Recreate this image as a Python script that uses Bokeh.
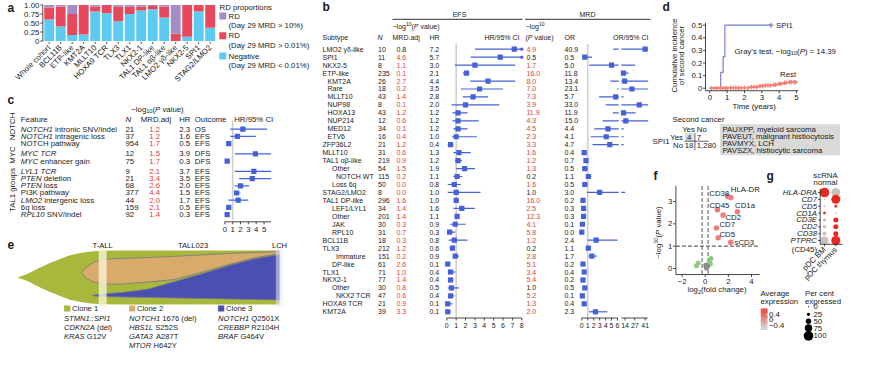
import math
import numpy as np
from bokeh.plotting import figure
from bokeh.models import Range1d, ColumnDataSource
from bokeh.transform import linear_cmap
from bokeh.core.properties import value
from bokeh.embed import file_html
from bokeh.resources import INLINE

# ======================= DATA =======================
# --- panel a: RD proportions per subtype
a_categories = ["Whole cohort", "BCL11B", "ETP-like", "KMT2A", "MLLT10", "HOXA9 TCR", "TLX3", "TLX1",
                "NKX2-1", "TAL1 DP-like", "TAL1 αβ-like", "LMO2 γδ-like", "NKX2-5", "SPI1", "STAG2/LMO2"]
a_negative = [0.60, 0.40, 0.17, 0.18, 0.82, 0.77, 0.55, 0.75, 0.85, 0.88, 0.65, 0.00, 0.12, 0.82, 0.37]
a_rd_low = [0.33, 0.56, 0.58, 0.82, 0.14, 0.23, 0.41, 0.21, 0.11, 0.09, 0.31, 0.20, 0.88, 0.18, 0.63]
a_rd_high = [0.07, 0.04, 0.25, 0.00, 0.04, 0.00, 0.04, 0.04, 0.04, 0.03, 0.04, 0.80, 0.00, 0.00, 0.00]
a_ticks = [0, 0.25, 0.5, 0.75, 1.0]
a_tick_labels = ["0", "0.25", "0.50", "0.75", "1.00"]
a_legend_title = "RD proportions"
a_legend = [("RD", "(Day 29 MRD > 10%)"), ("RD", "(Day 29 MRD > 0.01%)"), ("Negative", "(Day 29 MRD < 0.01%)")]

# --- panel b: subtype forest (EFS and MRD)
b_subtype = ["LMO2 γδ-like", "SPI1", "NKX2-5", "ETP-like", "KMT2A", "Rare", "MLLT10", "NUP98", "HOXA13",
             "NUP214", "MED12", "ETV6", "ZFP36L2", "MLLT10", "TAL1 αβ-like", "Other", "NOTCH WT", "Loss 6q",
             "STAG2/LMO2", "TAL1 DP-like", "LEF1/LYL1", "Other", "JAK", "RPL10", "BCL11B", "TLX3", "Immature",
             "DP-like", "TLX1", "NKX2-1", "Other", "NKX2 TCR", "HOXA9 TCR", "KMT2A"]
b_level = [0, 0, 0, 0, 1, 1, 1, 1, 1, 1, 1, 1, 0, 0, 0, 2, 3, 2, 0, 0, 2, 2, 2, 2, 0, 0, 3, 2, 0, 0, 2, 3, 0, 0]
b_n = [10, 11, 8, 235, 26, 18, 43, 8, 43, 12, 34, 16, 21, 31, 219, 54, 115, 50, 8, 296, 34, 201, 30, 31, 18,
       212, 151, 61, 71, 77, 30, 47, 21, 39]
b_efs_mrdadj = [0.8, 4.6, 1.1, 0.1, 2.7, 0.2, 1.4, 0.1, 1.2, 0.6, 0.1, 0.4, 1.2, 0.6, 0.9, 1.5, 0.2, 0.0, 0.0,
                1.6, 1.4, 1.4, 0.3, 0.7, 0.3, 1.2, 0.2, 2.6, 1.0, 1.4, 0.8, 0.6, 0.9, 3.3]
b_efs_red = [False] + [True] * 33
b_hr = [7.2, 5.7, 3.0, 2.1, 4.4, 3.5, 2.8, 2.0, 1.2, 1.2, 1.2, 1.0, 0.4, 1.3, 1.2, 1.9, 1.1, 0.8, 1.0, 1.0,
        1.6, 1.1, 0.9, 0.3, 0.8, 0.6, 0.9, 0.1, 0.4, 0.4, 0.5, 0.4, 0.1, 0.1]
b_hr_lo = [3.0, 2.55, 0.85, 1.7, 2.5, 1.5, 1.7, 0.5, 0.6, 0.6, 0.7, 0.55, 0.1, 0.7, 0.9, 1.0, 0.7, 0.1, 0.1,
           0.75, 0.7, 0.85, 0.35, 0.1, 0.2, 0.45, 0.65, 0.05, 0.1, 0.2, 0.1, 0.2, 0.0, 0.05]
b_hr_hi = [12.0, 11.0, 7.3, 2.4, 7.3, 6.0, 4.4, 5.6, 2.2, 3.4, 2.2, 3.2, 0.7, 2.55, 1.6, 3.0, 1.65, 1.5, 3.6,
           1.3, 3.0, 1.3, 2.0, 0.9, 2.2, 0.8, 1.3, 0.35, 0.9, 0.7, 1.3, 0.8, 0.6, 0.4]
b_mrd_p = [4.9, 0.5, 1.7, 16.0, 8.0, 7.0, 7.3, 3.9, 11.9, 4.3, 4.5, 2.3, 3.3, 1.6, 1.2, 1.3, 0.2, 1.6, 1.0,
           16.0, 2.5, 12.3, 4.1, 5.8, 1.2, 0.2, 2.8, 5.1, 3.4, 5.4, 1.0, 5.2, 1.3, 2.0]
b_or = [40.9, 0.5, 5.0, 11.8, 13.4, 23.1, 5.7, 33.0, 11.9, 15.0, 4.4, 4.1, 4.7, 0.4, 0.7, 0.5, 1.1, 0.5, 3.0,
        0.2, 0.3, 0.3, 0.1, 0.0, 2.4, 1.1, 1.7, 0.2, 0.4, 0.2, 0.5, 0.1, 0.4, 2.3]
b_or_lo = [5.3, 0.1, 1.24, 9.4, 4.8, 5.9, 2.9, 4.0, 5.2, 3.5, 2.1, 1.5, 1.8, 0.1, 0.55, 0.25, 0.7, 0.2, 0.85,
           0.05, 0.15, 0.15, 0.03, 0.0, 0.95, 0.8, 1.1, 0.05, 0.2, 0.05, 0.2, 0.03, 0.15, 1.2]
b_or_hi = [60, 1.7, 27.5, 18.5, 60, 60, 12, 60, 28, 60, 12, 12, 12, 0.9, 1.0, 1.0, 1.6, 0.95, 14, 0.3, 0.5,
           0.5, 0.2, 0.1, 6.0, 1.4, 2.5, 0.35, 0.6, 0.35, 0.9, 0.2, 0.8, 4.3]
b_efs_ticks = [0, 1, 2, 3, 4, 5, 6, 7, 8]
b_mrd_ticks1 = [0, 1, 2, 3, 4, 5, 6]
b_mrd_ticks2 = [14, 27, 41]

# --- panel c: genomic features
c_gene = ["NOTCH1", "NOTCH1", "", "MYC TCR", "MYC", "LYL1 TCR", "PTEN", "PTEN", "", "LMO2", "", "RPL10"]
c_rest = [" intronic SNV/indel", " intragenic loss", "NOTCH pathway", "", " enhancer gain", "", " deletion",
          " loss", "PI3K pathway", " intergenic loss", "6q loss", " SNV/indel"]
c_group = [0, 0, 0, 1, 1, 2, 2, 2, 2, 2, 2, 2]
c_group_names = ["NOTCH", "MYC", "TAL1 groups"]
c_n = [21, 37, 954, 12, 75, 9, 21, 68, 377, 44, 159, 92]
c_mrdadj = [1.2, 1.2, 1.7, 1.5, 1.7, 2.1, 3.4, 2.6, 4.4, 2.0, 2.1, 1.4]
c_hr = [2.3, 1.6, 0.5, 3.9, 0.3, 3.7, 3.5, 2.0, 1.5, 1.7, 0.5, 0.3]
c_outcome = ["OS", "EFS", "EFS", "DFS", "DFS", "EFS", "EFS", "EFS", "EFS", "EFS", "EFS", "EFS"]
c_hr_lo = [0.7, 0.7, 0.35, 1.3, 0.1, 1.27, 1.83, 1.27, 1.2, 0.47, 0.35, 0.2]
c_hr_hi = [5.4, 3.95, 0.6, 9.0, 0.65, 9.0, 9.0, 3.1, 2.0, 3.0, 0.65, 0.5]
c_ticks = [0, 1, 2, 3, 4, 5]

# --- panel d: cumulative incidence of second cancer
d_spi1_t = [0.0, 0.63, 0.77, 0.87, 3.53]
d_spi1_ci = [0.0, 0.125, 0.25, 0.5, 0.5]
d_rest_t = [0.0, 1.1, 2.3, 2.8, 3.2, 3.6, 3.9, 4.2, 4.5, 5.0]
d_rest_ci = [0.0, 0.004, 0.01, 0.017, 0.022, 0.027, 0.035, 0.043, 0.048, 0.048]
d_rest_censor = [0.1, 0.25, 0.4, 0.6, 0.75, 0.9, 1.0, 1.2, 1.35, 1.5, 1.65, 1.8, 2.0, 2.2, 2.4, 2.55, 2.7,
                 2.9, 3.05, 3.2, 3.35, 3.5, 3.7, 3.8, 4.0, 4.1, 4.3, 4.4, 4.6, 4.7, 4.85, 4.95]
d_xticks = [0, 1, 2, 3, 4, 5]
d_yticks = [0, 0.1, 0.2, 0.3, 0.4, 0.5]
d_ytick_labels = ["0", "0.1", "0.2", "0.3", "0.4", "0.5"]
d_tab_cols = ["Yes", "No"]
d_tab_rows = ["Yes", "No"]
d_tab = [["4", "7"], ["18", "1,280"]]
d_cases = ["PAUXPP, myeloid sarcoma", "PAVEUT, malignant histiocytosis", "PAVMYX, LCH",
           "PAVSZX, histiocytic sarcoma"]

# --- panel e: fishplot (time 0-100, fraction 0-100)
e_t1 = [0, 4, 8, 12, 16, 20, 24, 28, 32, 40, 50, 60, 70, 80, 90, 100]
e_clone1_top = [50, 57, 67, 76, 84, 91, 95.5, 98, 99.5, 100, 100, 100, 100, 100, 100, 100]
e_clone1_bot = [50, 43, 33, 24, 16, 9, 4.5, 2, 0.5, 0, 0, 0, 0, 0, 0, 0]
e_t2 = [24.5, 26, 28, 30, 32, 36, 40, 50, 60, 70, 80, 90, 100]
e_clone2_top = [59, 68, 75, 80, 83, 84.5, 85.5, 87, 89.3, 91.7, 94.4, 96.3, 98.1]
e_clone2_bot = [59, 50, 44, 40.5, 38.5, 37.5, 38, 41.7, 46.3, 59.3, 73.1, 86.1, 94.4]
e_t3 = [28.6, 30, 32, 36, 40, 50, 60, 70, 80, 90, 100]
e_clone3_top = [16.7, 18, 19.4, 21, 22.2, 28.7, 42.6, 56.5, 71.3, 84.3, 92.6]
e_clone3_bot = [16.7, 15.5, 14.8, 14.2, 13.9, 13, 12, 11.1, 10.2, 9.3, 8.3]
e_timepoints = [32.5, 100]
e_timepoint_labels = ["T-ALL", "LCH"]
e_sample_label = ("TALL023", 67)
e_clone_names = ["Clone 1", "Clone 2", "Clone 3"]
e_mutations = [[("STMN1::SPI1", ""), ("CDKN2A", " (del)"), ("KRAS", " G12V")],
               [("NOTCH1", " 1676 (del)"), ("HBS1L", " S252S"), ("GATA3", " A287T"), ("MTOR", " H642Y")],
               [("NOTCH1", " Q2501X"), ("CREBBP", " R2104H"), ("BRAF", " G464V")]]

# --- panel f: volcano
f_labels = ["HLA-DR", "CD38", "CD45", "CD1a", "CD2", "CD7", "CD5", "sCD3"]
f_lfc = [2.21, 1.95, 1.06, 2.78, 1.55, 0.97, 1.12, 2.21]
f_nlp = [3.18, 3.22, 2.63, 2.54, 2.39, 1.81, 1.38, 1.17]
f_ns_green_lfc = [-0.75, -0.6, 0.35, 0.5, 0.45]
f_ns_green_nlp = [0.12, 0.25, 0.3, 0.45, 0.2]
f_ns_gray_lfc = [0.1, 0.2, 0.05]
f_ns_gray_nlp = [0.02, 0.1, 0.15]
f_xticks = [-2, 0, 2, 4]
f_yticks = [0, 1, 2, 3]

# --- panel g: scRNA dot plot
g_genes = ["HLA-DRA", "CD7", "CD5", "CD1A", "CD3E", "CD2", "CD38", "PTPRC"]
g_groups = ["pDC BM", "pDC thymus"]
g_pct_bm = [100, 8, 8, 20, 27, 27, 33, 80]
g_pct_thy = [92, 92, 21, 5, 45, 45, 45, 92]
g_expr_bm = [0.5, -0.5, -0.5, 0.4, -0.5, -0.5, -0.5, -0.5]
g_expr_thy = [-0.5, 0.5, 0.45, -0.3, 0.5, 0.5, 0.5, 0.5]
g_size_legend = [0, 25, 50, 75, 100]
g_expr_ticks = [0.4, 0, -0.4]
g_expr_tick_labels = ["0.4", "0", "−0.4"]

# ======================= CANVAS =======================
FONT = "Liberation Sans"
INK = "#1a1a1a"
RED_T = "#e3403b"
BLUE = "#4560d8"
W, H = 853, 349
X0, Y0 = 8, 8

p = figure(width=W, height=H, x_range=Range1d(X0, X0 + W), y_range=Range1d(Y0 + H, Y0),
           x_axis_type=None, y_axis_type=None, output_backend="svg", toolbar_location=None,
           min_border=0, outline_line_color=None, background_fill_color="white",
           border_fill_color="white")


def add_x(name, v0, p0, v1, p1):
    k = (p1 - p0) / (v1 - v0)
    r = dict(p.extra_x_ranges)
    r[name] = Range1d(start=v0 + (X0 - p0) / k, end=v0 + (X0 + W - p0) / k)
    p.extra_x_ranges = r


def add_y(name, v0, p0, v1, p1):
    k = (p1 - p0) / (v1 - v0)
    r = dict(p.extra_y_ranges)
    r[name] = Range1d(start=v0 + (Y0 + H - p0) / k, end=v0 + (Y0 - p0) / k)
    p.extra_y_ranges = r


def _isseq(v):
    return isinstance(v, (list, tuple, np.ndarray))


def _bc(*vals):
    n = max(len(v) if _isseq(v) else 1 for v in vals)
    return [list(v) if _isseq(v) else [v] * n for v in vals]


def seg(x0, y0, x1, y1, color=INK, width=0.8, xr="default", yr="default", dash="solid", alpha=1.0):
    x0, y0, x1, y1 = _bc(x0, y0, x1, y1)
    p.segment(x0=x0, y0=y0, x1=x1, y1=y1, line_color=color, line_width=width, line_dash=dash,
              line_alpha=alpha, x_range_name=xr, y_range_name=yr)


def txt(x, y, s, size=7.5, color=INK, align="left", baseline="middle", style="normal", angle=0.0,
        xr="default", yr="default", dx=0.0, dy=0.0):
    xs, ys, ss, cs, dxs, dys = _bc(x, y, s, color, dx, dy)
    src = ColumnDataSource(dict(x=xs, y=ys, t=ss, col=cs, ox=dxs, oy=dys))
    p.text(x="x", y="y", text="t", text_color="col", x_offset="ox", y_offset="oy", source=src,
           x_range_name=xr, y_range_name=yr, text_font=value(FONT), text_font_size=value(f"{size}px"),
           text_align=align, text_baseline=baseline, text_font_style=style, angle=angle)


AW = {' ': 278, "'": 191, '(': 333, ')': 333, ',': 278, '-': 333, '.': 278, '/': 278, ':': 278, '<': 584,
      '=': 584, '>': 584, '%': 889, '−': 584, 'γ': 480, 'δ': 556, 'α': 578, 'β': 575,
      'A': 667, 'B': 667, 'C': 722, 'D': 722, 'E': 667, 'F': 611, 'G': 778, 'H': 722, 'I': 278, 'J': 500,
      'K': 667, 'L': 556, 'M': 833, 'N': 722, 'O': 778, 'P': 667, 'Q': 778, 'R': 722, 'S': 667, 'T': 611,
      'U': 722, 'V': 667, 'W': 944, 'X': 667, 'Y': 667, 'Z': 611,
      'a': 556, 'b': 556, 'c': 500, 'd': 556, 'e': 556, 'f': 278, 'g': 556, 'h': 556, 'i': 222, 'j': 222,
      'k': 500, 'l': 222, 'm': 833, 'n': 556, 'o': 556, 'p': 556, 'q': 556, 'r': 333, 's': 500, 't': 278,
      'u': 556, 'v': 500, 'w': 722, 'x': 500, 'y': 500, 'z': 500}


def tw(s, size):
    return sum(AW.get(ch, 556) for ch in s) / 1000.0 * size


def rich(x, y, segs, size=7.5, color=INK, align="left", angle=0.0, xr="default", yr="default"):
    fss = [size * 0.72 if st in ("sub", "sup") else size for _, st in segs]
    ws = [tw(t, fs) for (t, _), fs in zip(segs, fss)]
    tot = sum(ws)
    off = {"left": 0.0, "center": -tot / 2.0, "right": -tot}[align]
    ca, sa = math.cos(angle), math.sin(angle)
    for (t, st), w, fs in zip(segs, ws, fss):
        core = t.strip(" ")
        if core:
            lead = len(t) - len(t.lstrip(" "))
            o = off + tw(" " * lead, fs)
            shift = {"sub": -size * 0.28, "sup": size * 0.36}.get(st, 0.0)
            dx = o * ca - shift * sa
            dy = -o * sa - shift * ca
            style = {"i": "italic", "b": "bold"}.get(st, "normal")
            txt(x, y, core, size=fs, color=color, align="left", style=style, angle=angle, xr=xr, yr=yr,
                dx=dx, dy=dy)
        off += w


def letter(x, y, s):
    txt(x, y, s, size=12, style="bold", baseline="middle")


# ======================= PANEL a =======================
SA = 7.8
A_NEG, A_LOW, A_HIGH = "#5bcbf1", "#e8485b", "#a58cc7"
add_x("a_x", 0, 56.7, 14, 217.7)
add_y("a_y", 0, 48.5, 1, 12.5)
a_idx = list(range(len(a_categories)))
neg = np.array(a_negative)
low = np.array(a_rd_low)
high = np.array(a_rd_high)
for bot, top, colr in ((np.zeros_like(neg), neg, A_NEG), (neg, neg + low, A_LOW),
                       (neg + low, neg + low + high, A_HIGH)):
    p.vbar(x=a_idx, width=0.86, bottom=bot, top=top, fill_color=colr, line_color=None,
           x_range_name="a_x", y_range_name="a_y")
seg(50.3, 0, 50.3, 1, yr="a_y")
seg(47.8, a_ticks, 50.3, a_ticks, yr="a_y")
txt(46.8, a_ticks, a_tick_labels, size=SA, align="right", yr="a_y")
seg(a_idx, 49.4, a_idx, 51.4, xr="a_x")
txt(a_idx, 53.8, a_categories, size=SA, align="right", angle=math.pi / 4, xr="a_x")
letter(15, 15, "a")
txt(227, 15.0, a_legend_title, size=SA)
for (l1, l2), colr, ly in zip(a_legend, (A_HIGH, A_LOW, A_NEG), (23.5, 43.3, 63.6)):
    p.scatter(x=[230.3], y=[ly], marker="square", size=7, fill_color=colr, line_color=None)
    txt(236, ly, l1, size=SA)
    txt(236, ly + 9.4, l2, size=SA)

# ======================= PANEL b =======================
SB = 7.0
nb = len(b_subtype)
rows = np.arange(nb)
add_y("b_row", 0, 56.7, 33, 319.3)
add_x("efs", 0, 454.3, 8, 529.3)
add_x("mrd1", 0, 589.3, 6, 625.0)
add_x("mrd2", 14, 632.6, 41, 652.7)
letter(330, 14, "b")
# headers
txt(467, 21.7, "EFS", size=SB, align="center")
seg(400, 26.8, 530, 26.8, width=0.9)
txt(595, 21.7, "MRD", size=SB, align="center")
seg(532.5, 26.8, 658, 26.8, width=0.9)
rich(400, 34.3, [("−log", "n"), ("10", "sup"), ("(", "n"), ("P", "i"), (" value)", "n")], size=SB)
hy = 45.0
txt(330, hy, "Subtype", size=SB)
txt(385, hy, "N", size=SB, style="italic")
txt(400, hy, "MRD.adj", size=SB)
txt(437, hy, "HR", size=SB)
txt(527, hy, "HR/95% CI", size=SB, align="right")
rich(533, 33.7, [("−log", "n"), ("10", "sup")], size=SB)
rich(533, hy, [("(", "n"), ("P", "i"), (" value)", "n")], size=SB)
txt(572, hy, "OR", size=SB)
txt(656, hy, "OR/95% CI", size=SB, align="right")
# table columns
B_INDENT = [0.0, 5.0, 9.5, 13.5]
txt(330, rows, b_subtype, size=SB, yr="b_row", dx=[B_INDENT[l] for l in b_level])
txt(385.5, rows, [str(v) for v in b_n], size=SB, yr="b_row")
txt(404, rows, [f"{v:.1f}" for v in b_efs_mrdadj], size=SB, yr="b_row",
    color=[RED_T if r else INK for r in b_efs_red])
txt(437, rows, [f"{v:.1f}" for v in b_hr], size=SB, yr="b_row")
txt(534, rows, [f"{v:.1f}" for v in b_mrd_p], size=SB, yr="b_row",
    color=[RED_T if v >= 1.2 else INK for v in b_mrd_p])
txt(572, rows, [f"{v:.1f}" for v in b_or], size=SB, yr="b_row")
# EFS forest
seg(1, -0.7, 1, 33.7, color="#cfcfcf", width=1.6, xr="efs", yr="b_row")
hr_lo = np.clip(b_hr_lo, 0, 8)
hr_hi = np.clip(b_hr_hi, 0, 8)
seg(hr_lo, rows, hr_hi, rows, color=BLUE, width=1.2, xr="efs", yr="b_row")
p.scatter(x=b_hr, y=rows, marker="square", size=5.2, fill_color=BLUE, line_color=None,
          x_range_name="efs", y_range_name="b_row")
clip_rows = [i for i in range(nb) if b_hr_hi[i] > 8]
p.scatter(x=[8] * len(clip_rows), y=clip_rows, marker="circle", size=3.2, fill_color=BLUE, line_color=None,
          x_range_name="efs", y_range_name="b_row")
AXY = 325.5
seg(0, AXY, 8, AXY, xr="efs")
seg(b_efs_ticks, AXY, b_efs_ticks, AXY + 2.5, xr="efs")
txt(b_efs_ticks, 333.0, [str(t) for t in b_efs_ticks], size=SB, align="center", xr="efs")
# MRD forest (broken axis)
S1_END, S2_START, S2_END = 6.2, 9.0, 45.0
or_lo = np.array(b_or_lo, dtype=float)
or_hi = np.array(b_or_hi, dtype=float)
or_v = np.array(b_or, dtype=float)
seg(1, -0.7, 1, 33.7, color="#cfcfcf", width=1.6, xr="mrd1", yr="b_row")
m1 = or_lo < S1_END
seg(np.maximum(or_lo[m1], 0), rows[m1], np.minimum(or_hi[m1], S1_END), rows[m1], color=BLUE, width=1.2,
    xr="mrd1", yr="b_row")
m2 = or_hi > S2_START
seg(np.maximum(or_lo[m2], S2_START), rows[m2], np.minimum(or_hi[m2], S2_END), rows[m2], color=BLUE,
    width=1.2, xr="mrd2", yr="b_row")
q1 = or_v <= S1_END
q2 = or_v >= S2_START
p.scatter(x=or_v[q1], y=rows[q1], marker="square", size=5.2, fill_color=BLUE, line_color=None,
          x_range_name="mrd1", y_range_name="b_row")
p.scatter(x=or_v[q2], y=rows[q2], marker="square", size=5.2, fill_color=BLUE, line_color=None,
          x_range_name="mrd2", y_range_name="b_row")
seg(0, AXY, 6, AXY, xr="mrd1")
seg(b_mrd_ticks1, AXY, b_mrd_ticks1, AXY + 2.5, xr="mrd1")
txt(b_mrd_ticks1, 333.0, [str(t) for t in b_mrd_ticks1], size=SB, align="center", xr="mrd1")
seg(S2_START, AXY, 44.5, AXY, xr="mrd2")
seg(b_mrd_ticks2, AXY, b_mrd_ticks2, AXY + 2.5, xr="mrd2")
txt(b_mrd_ticks2, 333.0, [str(t) for t in b_mrd_ticks2], size=SB, align="center", xr="mrd2")

# ======================= PANEL c =======================
SC = 7.8
c_pos = [i + 0.43 * g for i, g in enumerate(c_group)]
add_y("c_row", 0, 136.7, 1, 143.9)
add_x("c_hr", 0, 232.3, 5, 271.55)
letter(15, 107.5, "c")
rich(165, 116.7, [("−log", "n"), ("10", "sub"), ("(", "n"), ("P", "i"), (" value)", "n")], size=SC,
     align="center")
txt(28.3, 126.7, "Feature", size=SC)
txt(133, 126.7, "N", size=SC, style="italic")
txt(148.3, 126.7, "MRD.adj", size=SC)
txt(186.7, 126.7, "HR", size=SC)
txt(202.3, 126.7, "Outcome", size=SC)
txt(241.7, 126.7, "HR/95% CI", size=SC)
C_GROUP_Y = [134.0, 162.5, 197.5]
txt(19.5, C_GROUP_Y, c_group_names, size=SC, align="center", angle=math.pi / 2)
for i in range(len(c_gene)):
    segs = []
    if c_gene[i]:
        segs.append((c_gene[i], "i"))
    if c_rest[i]:
        segs.append((c_rest[i], "n"))
    rich(28.3, c_pos[i], segs, size=SC, yr="c_row")
txt(133, c_pos, [str(v) for v in c_n], size=SC, yr="c_row")
txt(156.7, c_pos, [f"{v:.1f}" for v in c_mrdadj], size=SC, yr="c_row", color=RED_T)
txt(186.7, c_pos, [f"{v:.1f}" for v in c_hr], size=SC, yr="c_row")
txt(202.3, c_pos, c_outcome, size=SC, yr="c_row")
seg(1, -1.2, 1, 12.6, color="#cfcfcf", width=1.6, xr="c_hr", yr="c_row")
C_MAX = 5.9
seg(np.clip(c_hr_lo, 0, C_MAX), c_pos, np.clip(c_hr_hi, 0, C_MAX), c_pos, color=BLUE, width=1.2,
    xr="c_hr", yr="c_row")
p.scatter(x=c_hr, y=c_pos, marker="square", size=5.2, fill_color=BLUE, line_color=None,
          x_range_name="c_hr", y_range_name="c_row")
seg(0, 229.3, C_MAX, 229.3, xr="c_hr")
seg(c_ticks, 229.3, c_ticks, 231.8, xr="c_hr")
txt(c_ticks, 236.8, [str(t) for t in c_ticks], size=SC, align="center", xr="c_hr")

# ======================= PANEL e =======================
SE = 7.6
E_G, E_T, E_B = "#a7b83d", "#d8ab6b", "#4b4fb1"
add_x("e_x", 0, 25, 100, 287)
add_y("e_y", 0, 312, 100, 258)
letter(15, 252, "e")
p.varea(x=e_t1, y1=e_clone1_bot, y2=e_clone1_top, fill_color=E_G, x_range_name="e_x", y_range_name="e_y")
p.varea(x=e_t2, y1=e_clone2_bot, y2=e_clone2_top, fill_color=E_T, x_range_name="e_x", y_range_name="e_y")
p.varea(x=e_t3, y1=e_clone3_bot, y2=e_clone3_top, fill_color=E_B, x_range_name="e_x", y_range_name="e_y")
for xs, ys in ((e_t2, e_clone2_top), (e_t2, e_clone2_bot), (e_t3, e_clone3_top), (e_t3, e_clone3_bot)):
    p.line(x=xs, y=ys, line_color="#7d7d7d", line_width=0.9, x_range_name="e_x", y_range_name="e_y")
tp = np.array(e_timepoints)
p.quad(left=tp[:1] - 1.5, right=tp[:1] + 1.5, bottom=-5, top=105, fill_color="#f8f4d6", fill_alpha=0.8,
       line_color=None, x_range_name="e_x", y_range_name="e_y")
p.quad(left=tp[1:] - 1.4, right=tp[1:] + 1.4, bottom=-5, top=105, fill_color="#e8e8f6", fill_alpha=0.55,
       line_color=None, x_range_name="e_x", y_range_name="e_y")
txt(list(tp), 253.3, e_timepoint_labels, size=SE, align="center", xr="e_x")
txt(e_sample_label[1], 253.3, e_sample_label[0], size=SE, align="center", xr="e_x")
for k, (lx, colr) in enumerate(zip((71.5, 136.5, 225.5), (E_G, E_T, E_B))):
    p.scatter(x=[lx + 3.2], y=[316.0], marker="square", size=6.2, fill_color=colr, line_color=None)
    txt(lx + 8, 316.0, e_clone_names[k], size=SE)
    for j, (gene, rest) in enumerate(e_mutations[k]):
        rich(lx, 325.6 + j * 9.1, [(gene, "i"), (rest, "n")], size=SE)

# ======================= PANEL d =======================
SD = 7.8
SPI_C, REST_C = "#7a7cc6", "#f27f74"
add_x("d_x", 0, 717.3, 5, 804.0)
add_y("d_y", 0, 95.7, 0.5, 32.7)
letter(670, 14, "d")
txt(681.7, 63.0, "Cumulative incidence", size=SD, align="center", angle=math.pi / 2)
txt(689.3, 63.0, "of second cancer", size=SD, align="center", angle=math.pi / 2)
p.step(x=d_spi1_t, y=d_spi1_ci, mode="after", line_color=SPI_C, line_width=1.2, x_range_name="d_x",
       y_range_name="d_y")
p.scatter(x=[d_spi1_t[-1]], y=[d_spi1_ci[-1]], marker="cross", size=5, line_color=SPI_C, line_width=1.2,
          x_range_name="d_x", y_range_name="d_y")
p.step(x=d_rest_t, y=d_rest_ci, mode="after", line_color=REST_C, line_width=1.6, x_range_name="d_x",
       y_range_name="d_y")
cens_idx = np.searchsorted(np.array(d_rest_t), np.array(d_rest_censor), side="right") - 1
cens_y = np.array(d_rest_ci)[cens_idx]
p.scatter(x=d_rest_censor, y=cens_y, marker="cross", size=4.5, line_color=REST_C, line_width=1.3,
          x_range_name="d_x", y_range_name="d_y")
txt(d_spi1_t[-1], d_spi1_ci[-1], "SPI1", size=SD, xr="d_x", yr="d_y", dx=5)
txt(4.05, 0.105, "Rest", size=SD, xr="d_x", yr="d_y")
rich(742, 58.7, [("Gray's test, −log", "n"), ("10", "sub"), ("(", "n"), ("P", "i"), (") = 14.39", "n")],
     size=SD)
seg(-0.25, -0.02, -0.25, 0.52, xr="d_x", yr="d_y")
seg(-0.25, -0.02, 5.1, -0.02, xr="d_x", yr="d_y")
seg(713.0, d_yticks, 710.5, d_yticks, yr="d_y")
txt(709.8, d_yticks, d_ytick_labels, size=SD, align="right", yr="d_y")
seg(d_xticks, 98.3, d_xticks, 100.8, xr="d_x")
txt(d_xticks, 104.8, [str(t) for t in d_xticks], size=SD, align="center", xr="d_x")
txt(761.7, 113.5, "Time (years)", size=SD, align="center")
# table
txt(680, 126.8, "Second cancer", size=SD)
txt(696.0, 136.8, d_tab_cols[0], size=SD, align="center")
txt(704.3, 136.8, d_tab_cols[1], size=SD, align="left")
txt(677.0, 149.0, "SPI1", size=SD, align="right")
p.quad(left=[692.3], right=[701.0], top=[140.6], bottom=[148.4], fill_color="#d9d9d9", line_color=None)
for r, ry in enumerate((144.5, 153.3)):
    txt(690.5, ry, d_tab_rows[r], size=SD, align="right")
    txt(696.6, ry, d_tab[r][0], size=SD, align="center")
    txt(704.3, ry, d_tab[r][1], size=SD, align="left")
seg(702.4, 140.5, 702.4, 157.5, width=0.7)
seg(692.0, 148.7, 716.0, 148.7, width=0.7)
p.quad(left=[727.7], right=[847.5], top=[131.8], bottom=[162.8], fill_color="#d9d9d9", line_color=None)
for j, case in enumerate(d_cases):
    txt(730.0, 136.5 + 7.25 * j, case, size=SD)

# ======================= PANEL f =======================
SF = 7.8
add_x("f_x", 0, 712.7, 4, 759.0)
add_y("f_y", 0, 276.0, 3, 209.0)
letter(661, 183.5, "f")
seg(-0.27, -0.25, -0.27, 3.7, color="#666666", width=1.1, xr="f_x", yr="f_y", dash="4 2")
seg(0.25, -0.25, 0.25, 3.7, color="#666666", width=1.1, xr="f_x", yr="f_y", dash="4 2")
seg(-2.53, 1, 4.7, 1, color="#666666", width=1.1, xr="f_x", yr="f_y", dash="4 2")
p.scatter(x=f_ns_green_lfc, y=f_ns_green_nlp, marker="circle", size=5, fill_color="#8fcb7e", line_color=None,
          x_range_name="f_x", y_range_name="f_y")
p.scatter(x=f_ns_gray_lfc, y=f_ns_gray_nlp, marker="circle", size=5, fill_color="#8a8a8a", line_color=None,
          x_range_name="f_x", y_range_name="f_y")
p.scatter(x=f_lfc, y=f_nlp, marker="circle", size=5.6, fill_color="#f07c7c", line_color=None,
          x_range_name="f_x", y_range_name="f_y")
F_LABEL_OFF = {"HLA-DR": (0, -8.3), "CD38": (-18.5, -3.0), "CD45": (-8, -4), "CD1a": (-2.3, -6),
               "CD2": (2.3, 2.3), "CD7": (3.0, -4.0), "CD5": (1.3, -3.6), "sCD3": (3.7, 0)}
txt(f_lfc, f_nlp, f_labels, size=SF, xr="f_x", yr="f_y", dx=[F_LABEL_OFF[l][0] for l in f_labels],
    dy=[F_LABEL_OFF[l][1] for l in f_labels])
seg(-2.53, -0.27, -2.53, 3.7, xr="f_x", yr="f_y")
seg(-2.53, -0.27, 4.7, -0.27, xr="f_x", yr="f_y")
seg(680.5, f_yticks, 683.0, f_yticks, yr="f_y")
txt(679.8, f_yticks, [str(t) for t in f_yticks], size=SF, align="right", yr="f_y")
seg(f_xticks, 282.0, f_xticks, 284.5, xr="f_x")
txt(f_xticks, 288.5, [str(t).replace("-", "−") for t in f_xticks], size=SF, align="center", xr="f_x")
rich(724.5, 297.0, [("log", "n"), ("2", "sub"), ("(fold change)", "n")], size=SF, align="center")
rich(666.0, 240.0, [("−log", "n"), ("10", "sup"), ("(", "n"), ("P", "i"), (" value)", "n")], size=SF,
     align="center", angle=math.pi / 2)

# ======================= PANEL g =======================
SG = 7.8
add_x("g_x", 0, 832.0, 1, 843.3)
add_y("g_y", 0, 200.0, 7, 248.0)
letter(774, 183.5, "g")
txt(833.0, 183.3, "scRNA", size=SG, align="center")
txt(833.0, 190.3, "normal", size=SG, align="center")
G_PAL = []
for k in range(64):
    f = k / 63.0
    G_PAL.append("#%02x%02x%02x" % (int(200 + (238 - 200) * f), int(200 + (34 - 200) * f),
                                    int(200 + (24 - 200) * f)))
gsrc = ColumnDataSource(dict(
    gx=[0] * len(g_genes) + [1] * len(g_genes),
    gy=list(range(len(g_genes))) * 2,
    pct=g_pct_bm + g_pct_thy,
    expr=g_expr_bm + g_expr_thy,
))
gsrc.data["sz"] = [1.2 + 0.085 * v for v in gsrc.data["pct"]]
p.scatter(x="gx", y="gy", size="sz", source=gsrc, marker="circle",
          fill_color=linear_cmap("expr", G_PAL, -0.55, 0.55), line_color=None,
          x_range_name="g_x", y_range_name="g_y")
g_rows = list(range(len(g_genes)))
seg(827.7, -0.55, 827.7, 7.55, yr="g_y")
seg(825.7, g_rows, 827.7, g_rows, yr="g_y")
txt(824.5, g_rows, g_genes, size=SG, align="right", style="italic", yr="g_y")
txt(824.5, 256.8, "(CD45)", size=SG, align="right")
seg(827.7, 251.8, 850.0, 251.8)
seg([0, 1], 251.8, [0, 1], 253.8, xr="g_x")
txt([0, 1], 256.0, g_groups, size=SG, align="right", angle=math.pi / 4, xr="g_x")
# colour legend
txt(768.0, 300.5, "Average", size=SG)
txt(768.0, 308.8, "expression", size=SG)
add_y("cb_y", -0.7, 337.5, 0.8, 316.0)
cb = np.linspace(-0.7, 0.8, 31)
cbsrc = ColumnDataSource(dict(b=cb[:-1], t=cb[1:], v=(cb[:-1] + cb[1:]) / 2.0))
p.quad(left=768.3, right=775.0, bottom="b", top="t", source=cbsrc,
       fill_color=linear_cmap("v", G_PAL, -0.55, 0.55), line_color=None, y_range_name="cb_y")
seg(773.5, g_expr_ticks, 775.0, g_expr_ticks, color="white", width=0.8, yr="cb_y")
txt(776.5, g_expr_ticks, g_expr_tick_labels, size=SG, yr="cb_y")
# size legend
txt(812.5, 300.5, "Per cent", size=SG)
txt(812.5, 308.8, "expressed", size=SG)
leg_y = [314.3, 321.8, 328.8, 335.6, 343.3]
p.scatter(x=[816.0] * len(g_size_legend), y=leg_y, size=[1.2 + 0.085 * v for v in g_size_legend],
          marker="circle", fill_color="black", line_color=None)
txt(821.0, leg_y, [str(v) for v in g_size_legend], size=SG)

open("out.html", "w").write(file_html(p, INLINE))
